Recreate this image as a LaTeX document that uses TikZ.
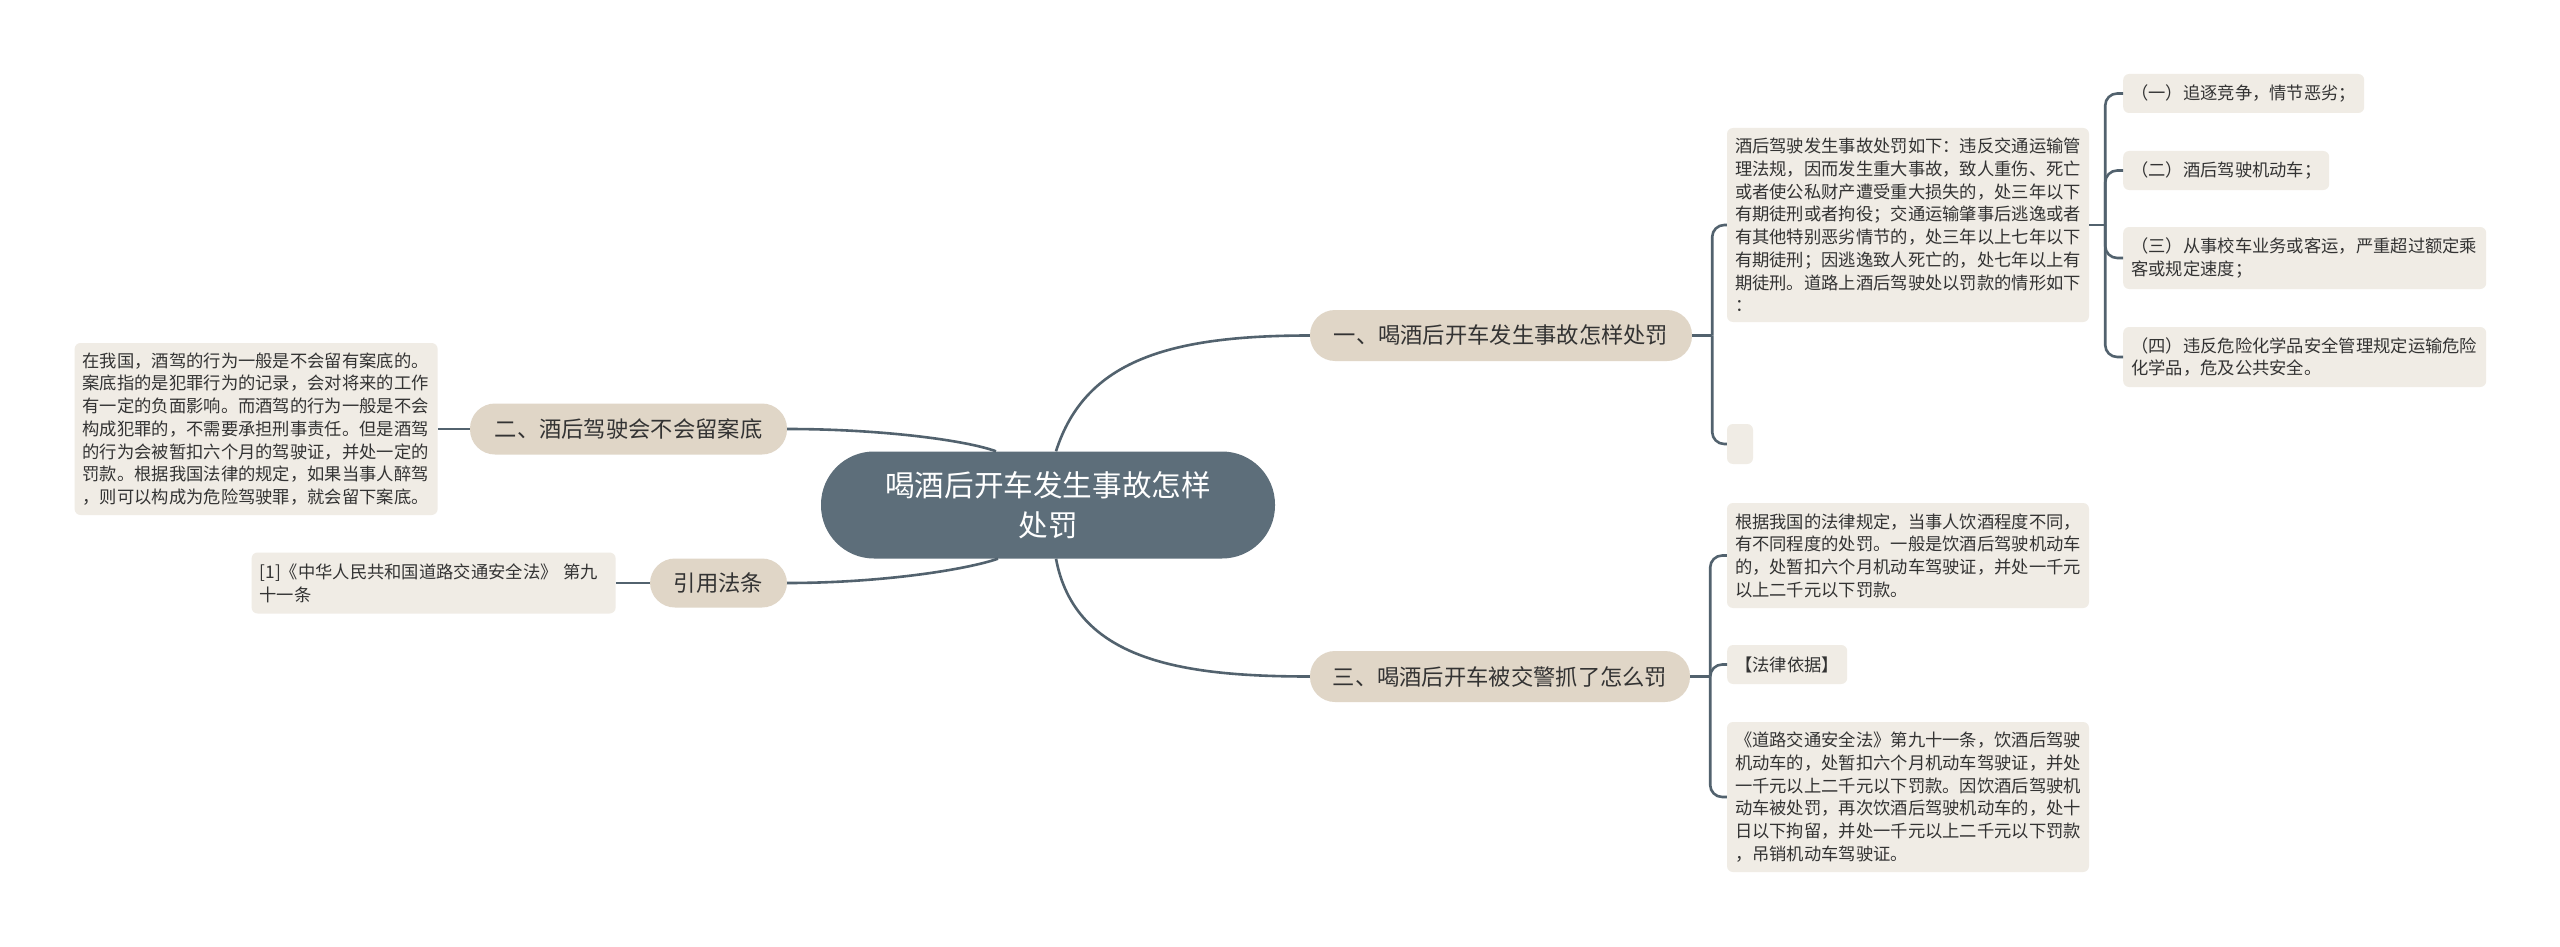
\documentclass[tikz,border=0pt]{standalone}
\usepackage{fontspec}
\setmainfont{Noto Sans CJK SC}
\usepackage{xcolor}
\usetikzlibrary{positioning}

\definecolor{rootfill}{HTML}{5D6E7A}
\definecolor{topicfill}{HTML}{E0D6C7}
\definecolor{leaffill}{HTML}{F0ECE5}
\definecolor{linkcol}{HTML}{52626E}
\definecolor{ink}{HTML}{333333}

\begin{document}
\begin{tikzpicture}[
  x=1pt,y=-1pt,
  root/.style={fill=rootfill,text=white,rounded corners=53pt,minimum width=454pt,minimum height=107pt,align=center,font=\fontsize{29.6}{40}\selectfont},
  topic/.style={fill=topicfill,text=ink,rounded corners=25pt,minimum height=51pt,inner xsep=0pt,font=\fontsize{22.3}{28}\selectfont},
  leaf/.style={fill=leaffill,text=ink,rounded corners=6pt,inner xsep=8pt,inner ysep=0pt,align=left,font=\fontsize{17.3}{22.7}\selectfont},
  link/.style={draw=linkcol,line width=2.6pt},
  fork/.style={link,rounded corners=12pt},
]
\fill[white] (0,0) rectangle (2560,947);
\useasboundingbox (0,0) rectangle (2560,947);

% centre and main topics
\node[root] (root) at (1048,505) {喝酒后开车发生事故怎样\\处罚};
\node[topic,minimum width=382pt] (accident) at (1501,335.5) {一、喝酒后开车发生事故怎样处罚};
\node[topic,minimum width=317pt] (record) at (628.5,429) {二、酒后驾驶会不会留案底};
\node[topic,minimum width=137pt,minimum height=49pt] (cite) at (718.5,583) {引用法条};
\node[topic,minimum width=380pt] (police) at (1500,676.5) {三、喝酒后开车被交警抓了怎么罚};

% first topic
\node[leaf,text width=346pt,minimum height=194pt] (penalty) at (1908,225) {酒后驾驶发生事故处罚如下：违反交通运输管\\理法规，因而发生重大事故，致人重伤、死亡\\或者使公私财产遭受重大损失的，处三年以下\\有期徒刑或者拘役；交通运输肇事后逃逸或者\\有其他特别恶劣情节的，处三年以上七年以下\\有期徒刑；因逃逸致人死亡的，处七年以上有\\期徒刑。道路上酒后驾驶处以罚款的情形如下\\：};
\node[leaf,minimum width=26pt,minimum height=40pt,inner xsep=0pt] (blank) at (1740,444) {};
\node[leaf,anchor=west,text width=225pt,minimum height=39pt] (caseA) at (2123,93.5) {（一）追逐竞争，情节恶劣；};
\node[leaf,anchor=west,text width=190pt,minimum height=39pt] (caseB) at (2123,170.5) {（二）酒后驾驶机动车；};
\node[leaf,anchor=west,text width=347pt,minimum height=62pt] (caseC) at (2123,258) {（三）从事校车业务或客运，严重超过额定乘\\客或规定速度；};
\node[leaf,anchor=west,text width=347pt,minimum height=60pt] (caseD) at (2123,357) {（四）违反危险化学品安全管理规定运输危险\\化学品，危及公共安全。};

% second topic and citation
\node[leaf,text width=347pt,minimum height=172pt,left=32pt of record] (recordtext) {在我国，酒驾的行为一般是不会留有案底的。\\案底指的是犯罪行为的记录，会对将来的工作\\有一定的负面影响。而酒驾的行为一般是不会\\构成犯罪的，不需要承担刑事责任。但是酒驾\\的行为会被暂扣六个月的驾驶证，并处一定的\\罚款。根据我国法律的规定，如果当事人醉驾\\，则可以构成为危险驾驶罪，就会留下案底。};
\node[leaf,text width=348pt,minimum height=61pt,left=34pt of cite] (law) {[1]《中华人民共和国道路交通安全法》 第九\\十一条};

% third topic
\node[leaf,text width=346pt,minimum height=105pt] (degree) at (1908,555.5) {根据我国的法律规定，当事人饮酒程度不同，\\有不同程度的处罚。一般是饮酒后驾驶机动车\\的，处暂扣六个月机动车驾驶证，并处一千元\\以上二千元以下罚款。};
\node[leaf,anchor=west,text width=104pt,minimum height=39pt] (basis) at (1727,664.5) {【法律依据】};
\node[leaf,text width=346pt,minimum height=150pt] (article) at (1908,797) {《道路交通安全法》第九十一条，饮酒后驾驶\\机动车的，处暂扣六个月机动车驾驶证，并处\\一千元以上二千元以下罚款。因饮酒后驾驶机\\动车被处罚，再次饮酒后驾驶机动车的，处十\\日以下拘留，并处一千元以上二千元以下罚款\\，吊销机动车驾驶证。};

% curves from the centre
\draw[link] ([xshift=8pt]root.north) .. controls (1085,360) and (1170,335.5) .. (accident.west);
\draw[link] ([xshift=8pt]root.south) .. controls (1075,660) and (1180,676.5) .. (police.west);
\draw[link] (record.east) .. controls (880,429) and (965,440) .. ([xshift=-52pt]root.north);
\draw[link] (cite.east) .. controls (880,583) and (965,570) .. ([xshift=-50pt]root.south);

% forks
\coordinate (jaccident) at ([xshift=20pt]accident.east);
\draw[link] (accident.east) -- (jaccident);
\draw[fork] (jaccident) |- (penalty.west);
\draw[fork] (jaccident) |- (blank.west);

\coordinate (jpenalty) at ([xshift=16pt]penalty.east);
\draw[link] (penalty.east) -- (jpenalty);
\draw[fork] (jpenalty) |- (caseA.west);
\draw[fork] (jpenalty) |- (caseB.west);
\draw[fork] (jpenalty) |- (caseC.west);
\draw[fork] (jpenalty) |- (caseD.west);

\coordinate (jpolice) at ([xshift=20pt]police.east);
\draw[link] (police.east) -- (jpolice);
\draw[fork] (jpolice) |- (degree.west);
\draw[fork] (jpolice) |- (basis.west);
\draw[fork] (jpolice) |- (article.west);

\draw[link] (recordtext.east) -- (record.west);
\draw[link] (law.east) -- (cite.west);
\end{tikzpicture}
\end{document}
